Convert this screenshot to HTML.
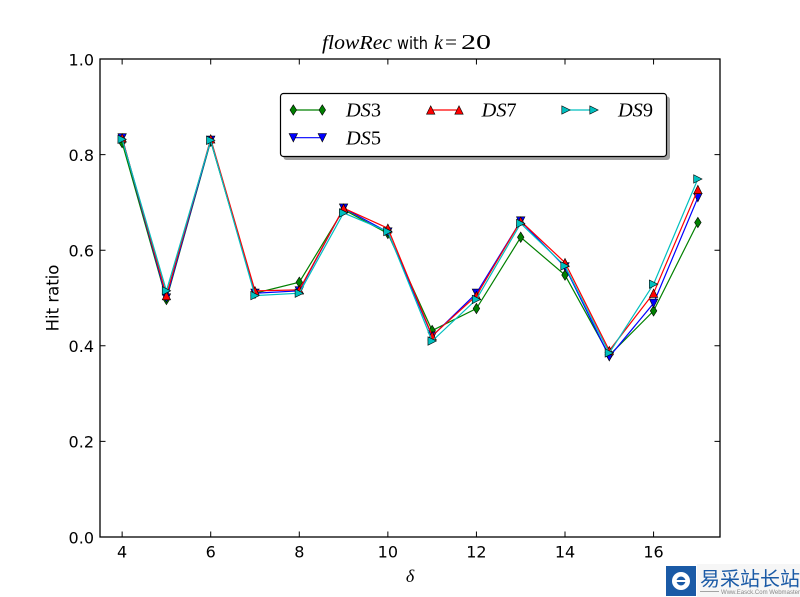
<!DOCTYPE html>
<html><head><meta charset="utf-8"><style>
html,body{margin:0;padding:0;background:#fff;}
svg{display:block;}
</style></head><body>
<svg width="800" height="597" viewBox="0 0 800 597" xmlns="http://www.w3.org/2000/svg">
<defs>
<path id="md" d="M0,-5.2 L3.3,0 L0,5.2 L-3.3,0Z" fill="#008000" stroke="#000" stroke-width="0.6"/>
<path id="mv" d="M0,4.2 L-4.2,-4.2 L4.2,-4.2Z" fill="#0000ff" stroke="#000" stroke-width="0.6"/>
<path id="mu" d="M0,-4.2 L4.2,4.2 L-4.2,4.2Z" fill="#ff0000" stroke="#000" stroke-width="0.6"/>
<path id="mr" d="M4.2,0 L-4.2,-4.2 L-4.2,4.2Z" fill="#00bfbf" stroke="#000" stroke-width="0.6"/>
</defs>
<rect x="0" y="0" width="800" height="597" fill="#fff"/>

<!-- title -->
<text x="322" y="49" font-family="Liberation Serif, DejaVu Serif, serif" font-style="italic" font-size="20" textLength="70" lengthAdjust="spacingAndGlyphs">flowRec</text>
<text x="397" y="49" font-family="DejaVu Sans, Liberation Sans, sans-serif" font-size="17" textLength="31" lengthAdjust="spacingAndGlyphs">with</text>
<text x="434" y="49" font-family="Liberation Serif, DejaVu Serif, serif" font-style="italic" font-size="20">k</text>
<text x="445" y="49" font-family="Liberation Serif, DejaVu Serif, serif" font-size="20" textLength="12" lengthAdjust="spacingAndGlyphs">=</text>
<text x="461" y="49" font-family="Liberation Serif, DejaVu Serif, serif" font-size="21" textLength="30" lengthAdjust="spacingAndGlyphs">20</text>

<!-- series DS3 -->
<polyline fill="none" stroke="#008000" stroke-width="1.2" points="122.14,142.65 166.43,299.43 210.71,141.22 255,293.22 299.29,282.23 343.57,209.57 387.86,233.47 432.14,330.5 476.43,308.52 520.71,237.29 565,275.06 609.29,355.36 653.57,310.91 697.86,222.48"/>
<use href="#md" x="122.14" y="142.65"/><use href="#md" x="166.43" y="299.43"/><use href="#md" x="210.71" y="141.22"/><use href="#md" x="255" y="293.22"/><use href="#md" x="299.29" y="282.23"/><use href="#md" x="343.57" y="209.57"/><use href="#md" x="387.86" y="233.47"/><use href="#md" x="432.14" y="330.5"/><use href="#md" x="476.43" y="308.52"/><use href="#md" x="520.71" y="237.29"/><use href="#md" x="565" y="275.06"/><use href="#md" x="609.29" y="355.36"/><use href="#md" x="653.57" y="310.91"/><use href="#md" x="697.86" y="222.48"/>

<!-- series DS5 -->
<polyline fill="none" stroke="#0000ff" stroke-width="1.2" points="122.14,137.87 166.43,298 210.71,140.26 255,293.22 299.29,290.83 343.57,208.14 387.86,232.04 432.14,336.24 476.43,293.22 520.71,221.04 565,266.93 609.29,356.79 653.57,303.26 697.86,197.62"/>
<use href="#mv" x="122.14" y="137.87"/><use href="#mv" x="166.43" y="298"/><use href="#mv" x="210.71" y="140.26"/><use href="#mv" x="255" y="293.22"/><use href="#mv" x="299.29" y="290.83"/><use href="#mv" x="343.57" y="208.14"/><use href="#mv" x="387.86" y="232.04"/><use href="#mv" x="432.14" y="336.24"/><use href="#mv" x="476.43" y="293.22"/><use href="#mv" x="520.71" y="221.04"/><use href="#mv" x="565" y="266.93"/><use href="#mv" x="609.29" y="356.79"/><use href="#mv" x="653.57" y="303.26"/><use href="#mv" x="697.86" y="197.62"/>

<!-- series DS7 -->
<polyline fill="none" stroke="#ff0000" stroke-width="1.2" points="122.14,137.87 166.43,295.61 210.71,138.83 255,290.83 299.29,289.87 343.57,208.14 387.86,228.21 432.14,335.76 476.43,295.61 520.71,221.04 565,262.63 609.29,350.58 653.57,293.22 697.86,189.49"/>
<use href="#mu" x="122.14" y="137.87"/><use href="#mu" x="166.43" y="295.61"/><use href="#mu" x="210.71" y="138.83"/><use href="#mu" x="255" y="290.83"/><use href="#mu" x="299.29" y="289.87"/><use href="#mu" x="343.57" y="208.14"/><use href="#mu" x="387.86" y="228.21"/><use href="#mu" x="432.14" y="335.76"/><use href="#mu" x="476.43" y="295.61"/><use href="#mu" x="520.71" y="221.04"/><use href="#mu" x="565" y="262.63"/><use href="#mu" x="609.29" y="350.58"/><use href="#mu" x="653.57" y="293.22"/><use href="#mu" x="697.86" y="189.49"/>

<!-- series DS9 -->
<polyline fill="none" stroke="#00bfbf" stroke-width="1.2" points="122.14,139.3 166.43,290.83 210.71,140.26 255,295.61 299.29,293.22 343.57,212.92 387.86,231.56 432.14,341.02 476.43,299.43 520.71,223.43 565,265.97 609.29,352.97 653.57,284.14 697.86,178.98"/>
<use href="#mr" x="122.14" y="139.3"/><use href="#mr" x="166.43" y="290.83"/><use href="#mr" x="210.71" y="140.26"/><use href="#mr" x="255" y="295.61"/><use href="#mr" x="299.29" y="293.22"/><use href="#mr" x="343.57" y="212.92"/><use href="#mr" x="387.86" y="231.56"/><use href="#mr" x="432.14" y="341.02"/><use href="#mr" x="476.43" y="299.43"/><use href="#mr" x="520.71" y="223.43"/><use href="#mr" x="565" y="265.97"/><use href="#mr" x="609.29" y="352.97"/><use href="#mr" x="653.57" y="284.14"/><use href="#mr" x="697.86" y="178.98"/>

<!-- axes frame -->
<rect x="100" y="59" width="620" height="478" fill="none" stroke="#000" stroke-width="1.3"/>

<!-- ticks -->
<g stroke="#000" stroke-width="1">
<path d="M122.14,537v-5.5M210.71,537v-5.5M299.29,537v-5.5M387.86,537v-5.5M476.43,537v-5.5M565,537v-5.5M653.57,537v-5.5"/>
<path d="M122.14,59v5.5M210.71,59v5.5M299.29,59v5.5M387.86,59v5.5M476.43,59v5.5M565,59v5.5M653.57,59v5.5"/>
<path d="M100,537h5.5M100,441.4h5.5M100,345.8h5.5M100,250.2h5.5M100,154.6h5.5M100,59h5.5"/>
<path d="M720,537h-5.5M720,441.4h-5.5M720,345.8h-5.5M720,250.2h-5.5M720,154.6h-5.5M720,59h-5.5"/>
</g>

<g font-family="DejaVu Sans, Liberation Sans, sans-serif" font-size="16" fill="#000">
<g text-anchor="middle">
<text x="122.14" y="557.5">4</text>
<text x="210.71" y="557.5">6</text>
<text x="299.29" y="557.5">8</text>
<text x="387.86" y="557.5">10</text>
<text x="476.43" y="557.5">12</text>
<text x="565" y="557.5">14</text>
<text x="653.57" y="557.5">16</text>
</g>
<g text-anchor="end">
<text x="94" y="543.3">0.0</text>
<text x="94" y="447.7">0.2</text>
<text x="94" y="352.1">0.4</text>
<text x="94" y="256.5">0.6</text>
<text x="94" y="160.9">0.8</text>
<text x="94" y="65.3">1.0</text>
</g>
<text transform="translate(58.5,298) rotate(-90)" text-anchor="middle" font-size="16.5">Hit ratio</text>
</g>

<!-- x label -->
<text x="410" y="582" text-anchor="middle" font-family="Liberation Serif, DejaVu Serif, serif" font-style="italic" font-size="18">δ</text>

<!-- legend -->
<rect x="283.5" y="96.5" width="386.5" height="63.5" rx="3" fill="#a0a0a0"/>
<rect x="280.5" y="93.5" width="386" height="63" rx="3" fill="#fff" stroke="#000" stroke-width="1.2"/>
<line x1="293.3" y1="110" x2="322.3" y2="110" stroke="#008000" stroke-width="1.2"/>
<use href="#md" x="293.3" y="110"/><use href="#md" x="322.3" y="110"/>
<line x1="293.3" y1="137.7" x2="322.3" y2="137.7" stroke="#0000ff" stroke-width="1.2"/>
<use href="#mv" x="293.3" y="137.7"/><use href="#mv" x="322.3" y="137.7"/>
<line x1="430.7" y1="110" x2="459" y2="110" stroke="#ff0000" stroke-width="1.2"/>
<use href="#mu" x="430.7" y="110"/><use href="#mu" x="459" y="110"/>
<line x1="566" y1="110" x2="594" y2="110" stroke="#00bfbf" stroke-width="1.2"/>
<use href="#mr" x="566" y="110"/><use href="#mr" x="594" y="110"/>
<g font-family="Liberation Serif, DejaVu Serif, serif" font-size="19.5">
<text x="346" y="116.7" textLength="35" lengthAdjust="spacingAndGlyphs"><tspan font-style="italic">DS</tspan>3</text>
<text x="346" y="144.4" textLength="35" lengthAdjust="spacingAndGlyphs"><tspan font-style="italic">DS</tspan>5</text>
<text x="481.7" y="116.7" textLength="35" lengthAdjust="spacingAndGlyphs"><tspan font-style="italic">DS</tspan>7</text>
<text x="618" y="116.7" textLength="35" lengthAdjust="spacingAndGlyphs"><tspan font-style="italic">DS</tspan>9</text>
</g>

<!-- watermark -->
<rect x="697" y="564" width="103" height="33" fill="#f6f6f6"/>
<rect x="666" y="566" width="30" height="30" fill="#1a5aa6"/>
<circle cx="681" cy="581" r="9" fill="#fff"/>
<circle cx="681" cy="581" r="4.5" fill="#1a5aa6"/>
<rect x="675" y="580" width="12" height="2" fill="#fff"/>
<text x="700" y="585.5" font-family="Noto Sans CJK SC, WenQuanYi Zen Hei, sans-serif" font-size="19.5" fill="#1a5aa6" textLength="100" lengthAdjust="spacingAndGlyphs">易采站长站</text>
<line x1="700" y1="591.5" x2="719" y2="591.5" stroke="#888" stroke-width="0.8"/>
<text x="721" y="594" font-family="Liberation Sans, sans-serif" font-size="6.5" fill="#888" textLength="79" lengthAdjust="spacingAndGlyphs">Www.Easck.Com Webmaster</text>
</svg>
</body></html>
